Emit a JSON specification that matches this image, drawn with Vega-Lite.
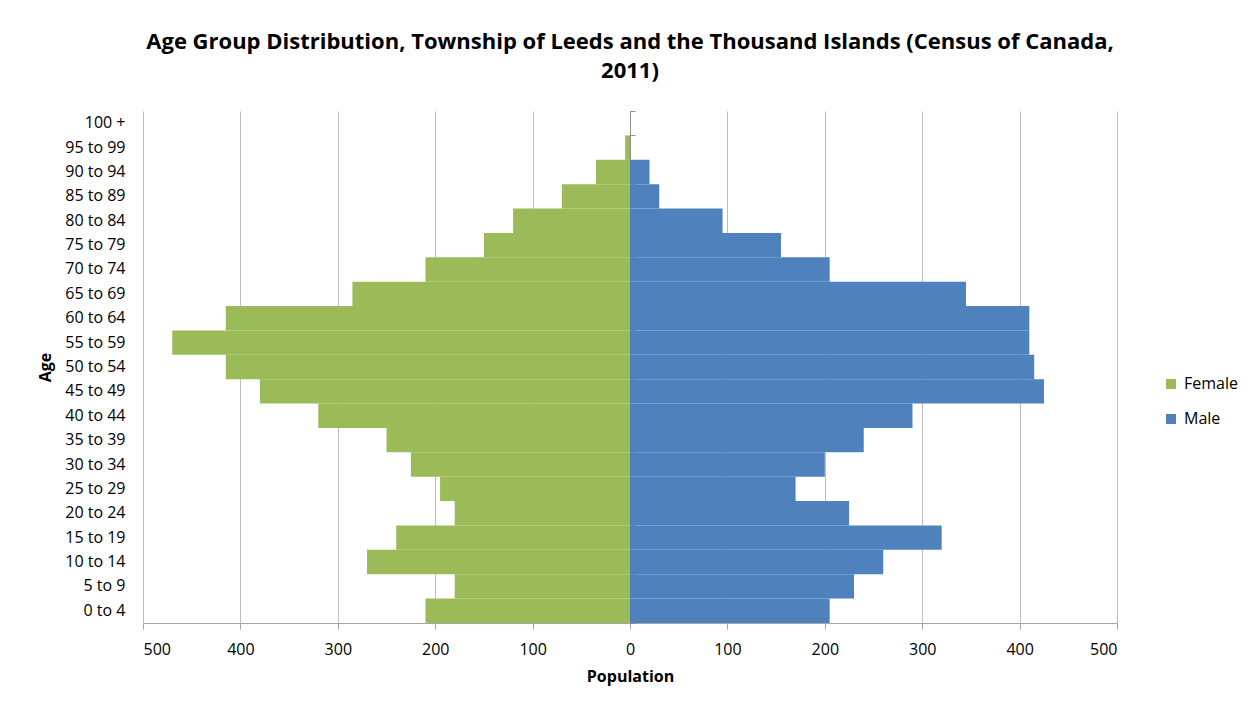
{
  "$schema": "https://vega.github.io/schema/vega-lite/v6.json",
  "autosize": {"type": "none"},
  "width": 974,
  "height": 512,
  "padding": {"left": 143, "top": 111, "right": 133, "bottom": 84},
  "background": "white",
  "config": {
    "view": {"stroke": null},
    "font": "Open Sans"
  },
  "title": {
    "text": ["Age Group Distribution, Township of Leeds and the Thousand Islands (Census of Canada,", "2011)"],
    "font": "Open Sans",
    "fontSize": 22,
    "fontWeight": "bold",
    "color": "#000000",
    "lineHeight": 29,
    "anchor": "middle",
    "offset": 28
  },
  "data": {
    "values": [
      {"age": "100 +", "sex": "Female", "value": 0},
      {"age": "95 to 99", "sex": "Female", "value": -5},
      {"age": "90 to 94", "sex": "Female", "value": -35},
      {"age": "85 to 89", "sex": "Female", "value": -70},
      {"age": "80 to 84", "sex": "Female", "value": -120},
      {"age": "75 to 79", "sex": "Female", "value": -150},
      {"age": "70 to 74", "sex": "Female", "value": -210},
      {"age": "65 to 69", "sex": "Female", "value": -285},
      {"age": "60 to 64", "sex": "Female", "value": -415},
      {"age": "55 to 59", "sex": "Female", "value": -470},
      {"age": "50 to 54", "sex": "Female", "value": -415},
      {"age": "45 to 49", "sex": "Female", "value": -380},
      {"age": "40 to 44", "sex": "Female", "value": -320},
      {"age": "35 to 39", "sex": "Female", "value": -250},
      {"age": "30 to 34", "sex": "Female", "value": -225},
      {"age": "25 to 29", "sex": "Female", "value": -195},
      {"age": "20 to 24", "sex": "Female", "value": -180},
      {"age": "15 to 19", "sex": "Female", "value": -240},
      {"age": "10 to 14", "sex": "Female", "value": -270},
      {"age": "5 to 9", "sex": "Female", "value": -180},
      {"age": "0 to 4", "sex": "Female", "value": -210},
      {"age": "100 +", "sex": "Male", "value": 0},
      {"age": "95 to 99", "sex": "Male", "value": 0},
      {"age": "90 to 94", "sex": "Male", "value": 20},
      {"age": "85 to 89", "sex": "Male", "value": 30},
      {"age": "80 to 84", "sex": "Male", "value": 95},
      {"age": "75 to 79", "sex": "Male", "value": 155},
      {"age": "70 to 74", "sex": "Male", "value": 205},
      {"age": "65 to 69", "sex": "Male", "value": 345},
      {"age": "60 to 64", "sex": "Male", "value": 410},
      {"age": "55 to 59", "sex": "Male", "value": 410},
      {"age": "50 to 54", "sex": "Male", "value": 415},
      {"age": "45 to 49", "sex": "Male", "value": 425},
      {"age": "40 to 44", "sex": "Male", "value": 290},
      {"age": "35 to 39", "sex": "Male", "value": 240},
      {"age": "30 to 34", "sex": "Male", "value": 200},
      {"age": "25 to 29", "sex": "Male", "value": 170},
      {"age": "20 to 24", "sex": "Male", "value": 225},
      {"age": "15 to 19", "sex": "Male", "value": 320},
      {"age": "10 to 14", "sex": "Male", "value": 260},
      {"age": "5 to 9", "sex": "Male", "value": 230},
      {"age": "0 to 4", "sex": "Male", "value": 205}
    ]
  },
  "layer": [
    {
      "mark": {"type": "bar"},
      "encoding": {
        "y": {
          "field": "age",
          "type": "ordinal",
          "sort": ["100 +", "95 to 99", "90 to 94", "85 to 89", "80 to 84", "75 to 79", "70 to 74", "65 to 69", "60 to 64", "55 to 59", "50 to 54", "45 to 49", "40 to 44", "35 to 39", "30 to 34", "25 to 29", "20 to 24", "15 to 19", "10 to 14", "5 to 9", "0 to 4"],
          "scale": {"paddingInner": 0, "paddingOuter": 0},
          "axis": {
            "ticks": false,
            "domain": false,
            "grid": false,
            "labelPadding": 18,
            "labelFont": "Open Sans",
            "labelFontSize": 16,
            "labelColor": "#000000",
            "title": "Age",
            "titleFont": "Open Sans",
            "titleFontSize": 16,
            "titleFontWeight": "bold",
            "titleColor": "#000000",
            "titleAngle": -90,
            "titleX": -98,
            "titleY": 256,
            "titleAlign": "center",
            "titleBaseline": "middle"
          }
        },
        "x": {
          "field": "value",
          "type": "quantitative",
          "scale": {"domain": [-500, 500], "nice": false, "zero": false},
          "axis": {
            "values": [-500, -400, -300, -200, -100, 0, 100, 200, 300, 400, 500],
            "labelExpr": "format(abs(datum.value), 'd')",
            "grid": true,
            "gridColor": "#bdbdbd",
            "gridWidth": 1,
            "domainColor": "#a6a6a6",
            "tickColor": "#a6a6a6",
            "tickSize": 6,
            "labelPadding": 12,
            "labelFont": "Open Sans",
            "labelFontSize": 16,
            "labelColor": "#000000",
            "title": "Population",
            "titleFont": "Open Sans",
            "titleFontSize": 16,
            "titleFontWeight": "bold",
            "titleColor": "#000000",
            "titleBaseline": "middle",
            "titleY": 53
          }
        },
        "color": {
          "field": "sex",
          "type": "nominal",
          "scale": {"domain": ["Female", "Male"], "range": ["#9BBB59", "#4F81BD"]},
          "legend": {
            "title": null,
            "orient": "none",
            "legendX": 1020,
            "legendY": 265,
            "padding": 0,
            "symbolType": "square",
            "symbolSize": 100,
            "symbolStrokeWidth": 0,
            "rowPadding": 19,
            "labelFont": "Open Sans",
            "labelFontSize": 16,
            "labelColor": "#000000",
            "labelOffset": 5
          }
        }
      }
    },
    {
      "mark": {"type": "bar", "opacity": 0},
      "encoding": {
        "y": {
          "field": "age",
          "type": "ordinal",
          "sort": ["100 +", "95 to 99", "90 to 94", "85 to 89", "80 to 84", "75 to 79", "70 to 74", "65 to 69", "60 to 64", "55 to 59", "50 to 54", "45 to 49", "40 to 44", "35 to 39", "30 to 34", "25 to 29", "20 to 24", "15 to 19", "10 to 14", "5 to 9", "0 to 4"],
          "axis": {
            "labels": false,
            "title": null,
            "grid": false,
            "domain": true,
            "domainColor": "#8c8c8c",
            "ticks": true,
            "tickBand": "extent",
            "tickColor": "#8c8c8c",
            "tickSize": 5,
            "offset": -487
          }
        },
        "x": {"field": "value", "type": "quantitative"}
      }
    }
  ],
  "resolve": {"axis": {"y": "independent"}}
}
